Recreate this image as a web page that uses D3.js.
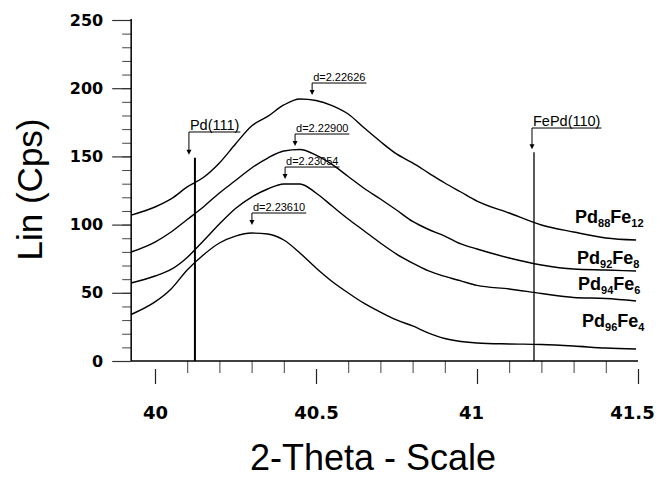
<!DOCTYPE html>
<html>
<head>
<meta charset="utf-8">
<script src="https://cdn.jsdelivr.net/npm/d3@7"></script>
<style>
  html, body { margin: 0; padding: 0; background: #fff; overflow: hidden; }
  svg { display: block; }
  text { fill: #000; }
</style>
</head>
<body>
<div id="viz"></div>
<script>
// 2-theta grid and intensities (Cps)
var twoTheta = [39.926, 40.0, 40.05, 40.1, 40.15, 40.2, 40.25, 40.3, 40.35, 40.4, 40.45, 40.5, 40.55, 40.6,
                40.65, 40.7, 40.75, 40.8, 40.85, 40.9, 40.95, 41.0, 41.1, 41.2, 41.3, 41.4, 41.494];
var pd88fe12 = [107.0, 112.9, 118.8, 127.6, 134.5, 145.2, 159.1, 172.3, 179.3, 187.7, 192.1, 191.0, 187.3, 181.1,
                170.8, 160.9, 151.8, 145.2, 137.8, 130.5, 123.9, 117.3, 108.5, 99.7, 94.6, 90.2, 88.7];
var pd92fe8  = [79.9, 87.2, 94.6, 103.7, 112.9, 123.2, 132.3, 141.5, 148.8, 154.0, 155.1, 151.0, 144.1, 135.3,
                126.5, 118.8, 110.7, 102.3, 96.4, 91.6, 85.8, 82.1, 75.5, 70.4, 67.4, 66.7, 66.0];
var pd94fe6  = [57.2, 62.3, 67.1, 75.9, 88.0, 100.4, 111.8, 120.2, 126.1, 129.8, 129.8, 123.2, 113.6, 104.1,
                95.3, 86.5, 78.4, 71.8, 66.0, 62.0, 58.7, 55.4, 52.8, 49.5, 46.6, 45.8, 44.0];
var pd96fe4  = [34.1, 43.3, 52.8, 66.7, 77.7, 86.5, 91.6, 93.8, 93.1, 88.7, 79.2, 68.2, 58.3, 49.9,
                42.2, 35.9, 30.1, 25.7, 20.5, 16.5, 14.3, 13.2, 12.5, 12.1, 11.0, 9.5, 8.8];
var seriesNames = [["Pd","88","Fe","12"], ["Pd","92","Fe","8"], ["Pd","94","Fe","6"], ["Pd","96","Fe","4"]];

var xTicks = [40, 40.5, 41, 41.5];
var yTicks = [0, 50, 100, 150, 200, 250];

// peak d-spacing markers
var peakLabels = ["d=2.22626", "d=2.22900", "d=2.23054", "d=2.23610"];
var peakX      = [40.488, 40.435, 40.404, 40.301];
var peakLabelY = [203.8, 166.4, 142.2, 108.5];

// reference reflections
var refNames  = ["Pd(111)", "FePd(110)"];
var refX      = [40.124, 41.177];
var refTop    = [149, 153];
var refLabelY = [167.9, 170.8];

var W = 657, H = 478;

var svg = d3.select("#viz").append("svg")
    .attr("width", W)
    .attr("height", H)
    .style("background", "#fff");

var x = d3.scaleLinear().domain([40, 41.5]).range([155, 638]);
var y = d3.scaleLinear().domain([0, 250]).range([361, 20]);
var xMin = 39.926;

// y axis
var yMinor = svg.append("g")
    .attr("transform", "translate(" + x(xMin) + ",0)")
    .call(d3.axisLeft(y).tickValues(d3.range(0, 251, 10)).tickSize(9).tickSizeOuter(0).tickFormat(""));
yMinor.select(".domain").remove();
yMinor.selectAll("line").attr("stroke", "#444");

var yAxis = svg.append("g")
    .attr("transform", "translate(" + x(xMin) + ",0)")
    .call(d3.axisLeft(y).tickValues(yTicks).tickSize(19).tickSizeOuter(0).tickPadding(9));
yAxis.select(".domain").remove();
yAxis.selectAll("line").attr("stroke", "#333").attr("stroke-width", 1.2);
yAxis.selectAll("text")
    .style("font-family", "'DejaVu Sans', sans-serif")
    .style("font-weight", "bold")
    .style("font-size", "16px")
    .attr("fill", "#000");

svg.append("line")
    .attr("x1", x(xMin)).attr("x2", x(xMin))
    .attr("y1", y(250) - 1).attr("y2", y(0))
    .attr("stroke", "#000").attr("stroke-width", 1.5);

// x axis
var xMinor = svg.append("g")
    .attr("transform", "translate(0," + y(0) + ")")
    .call(d3.axisBottom(x).tickValues(d3.range(40.1, 41.45, 0.1).filter(function(v){
        return Math.abs(v * 2 - Math.round(v * 2)) > 0.01;
    })).tickSize(12).tickSizeOuter(0).tickFormat(""));
xMinor.select(".domain").remove();
xMinor.selectAll("line").attr("stroke", "#444");

var labelShift = {"40": 0, "40.5": 0, "41": -6, "41.5": -6};
var xAxis = svg.append("g")
    .attr("transform", "translate(0," + y(0) + ")")
    .call(d3.axisBottom(x).tickValues(xTicks).tickSize(23).tickSizeOuter(0).tickFormat(d3.format("")));
xAxis.select(".domain").remove();
xAxis.selectAll("line").attr("y1", 8).attr("stroke", "#222").attr("stroke-width", 1.2);
xAxis.selectAll("text")
    .attr("y", 58).attr("dy", 0)
    .attr("dx", function(d){ return labelShift[String(d)]; })
    .style("font-family", "'DejaVu Sans', sans-serif")
    .style("font-weight", "bold")
    .style("font-size", "18px")
    .attr("fill", "#000");

svg.append("line")
    .attr("x1", x(xMin)).attr("x2", x(41.5))
    .attr("y1", y(0)).attr("y2", y(0))
    .attr("stroke", "#000").attr("stroke-width", 1.5);

// axis titles
svg.append("text")
    .attr("transform", "translate(42," + 189.5 + ") rotate(-90)")
    .attr("text-anchor", "middle")
    .style("font-family", "'Liberation Sans', Arial, sans-serif")
    .style("font-size", "35px")
    .text("Lin (Cps)");

svg.append("text")
    .attr("x", 373).attr("y", 470)
    .attr("text-anchor", "middle")
    .style("font-family", "'Liberation Sans', Arial, sans-serif")
    .style("font-size", "36px")
    .text("2-Theta - Scale");

// reference reflection lines
var refDx = [-6, -2];
var refWidth = [2, 1.3];
refNames.forEach(function(name, i){
    var lx = x(refX[i]);
    svg.append("line")
        .attr("x1", lx).attr("x2", lx)
        .attr("y1", y(refTop[i])).attr("y2", y(0))
        .attr("stroke", "#000").attr("stroke-width", refWidth[i]);
    marker(lx + refDx[i], y(refLabelY[i]), y(refTop[i]) - 3, name, "14.5px");
});

// curves
var series = [pd88fe12, pd92fe8, pd94fe6, pd96fe4];
var line = d3.line()
    .x(function(d, i){ return x(twoTheta[i]); })
    .y(function(d){ return y(d); })
    .curve(d3.curveMonotoneX);

svg.selectAll("path.curve")
    .data(series)
    .enter().append("path")
    .attr("class", "curve")
    .attr("d", line)
    .attr("fill", "none")
    .attr("stroke", "#000")
    .attr("stroke-width", 1.4);

// peak markers
peakLabels.forEach(function(lbl, i){
    var px = x(peakX[i]);
    var uy = y(peakLabelY[i]);
    marker(px, uy, uy + 12, lbl, "11px");
});

// bracket with text, underline and down arrow
function marker(bx, uy, tipY, label, size){
    var t = svg.append("text")
        .attr("x", bx + 1).attr("y", uy - 2)
        .style("font-family", "'Liberation Sans', Arial, sans-serif")
        .style("font-size", size)
        .text(label);
    var w = t.node().getComputedTextLength();
    svg.append("path")
        .attr("d", "M" + (bx + w + 2) + "," + uy + "H" + bx + "V" + (tipY - 4))
        .attr("fill", "none")
        .attr("stroke", "#000")
        .attr("stroke-width", 1);
    svg.append("path")
        .attr("d", "M" + (bx - 2.5) + "," + (tipY - 5) + "L" + (bx + 2.5) + "," + (tipY - 5) + "L" + bx + "," + tipY + "Z")
        .attr("fill", "#000");
}

// series labels
var labelPos = [[575, 223], [577, 264], [578, 290], [582, 327]];
seriesNames.forEach(function(parts, i){
    var t = svg.append("text")
        .attr("x", labelPos[i][0]).attr("y", labelPos[i][1])
        .style("font-family", "'Liberation Sans', Arial, sans-serif")
        .style("font-weight", "bold")
        .style("font-size", "18px");
    t.append("tspan").text(parts[0]);
    t.append("tspan").attr("dy", 4).style("font-size", "11px").text(parts[1]);
    t.append("tspan").attr("dy", -4).text(parts[2]);
    t.append("tspan").attr("dy", 4).style("font-size", "11px").text(parts[3]);
});
</script>
</body>
</html>
